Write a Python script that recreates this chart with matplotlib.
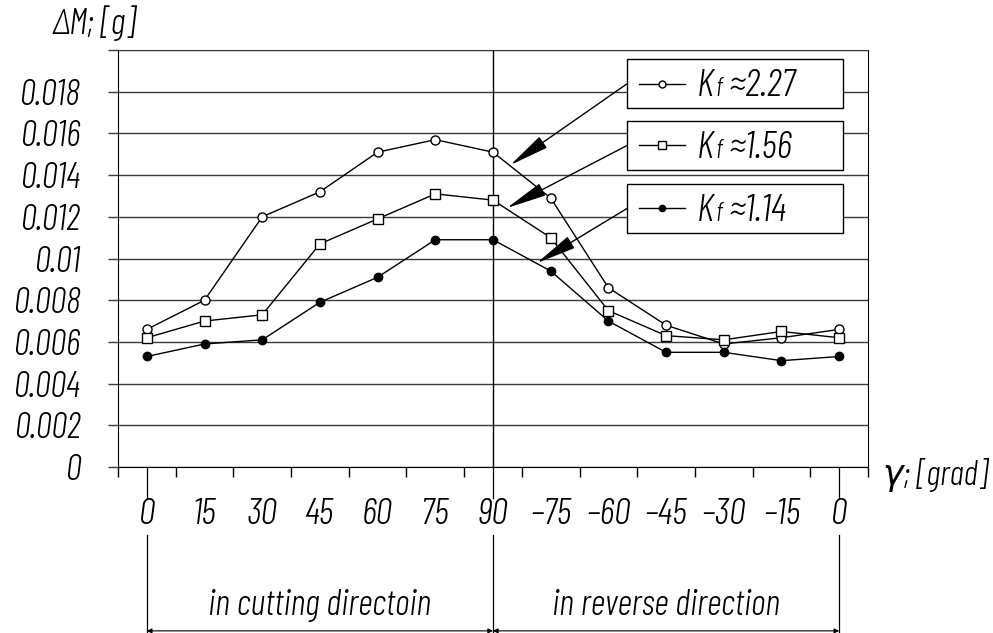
import numpy as np
import matplotlib
matplotlib.use("Agg")
import matplotlib.pyplot as plt
from matplotlib.patches import Rectangle

plt.rcParams['font.family'] = ['Barlow Condensed', 'DejaVu Sans']
plt.rcParams['font.style'] = 'italic'
plt.rcParams['font.weight'] = 300

# angle categories along the x axis
angles = ['0', '15', '30', '45', '60', '75', '90',
          '–75', '–60', '–45', '–30', '–15', '0']

# mass loss dM [g] for each Kf
kf_227 = [0.0066, 0.0080, 0.0120, 0.0132, 0.0151, 0.0157, 0.0151,
          0.0129, 0.0086, 0.0068, 0.0059, 0.0062, 0.0066]
kf_156 = [0.0062, 0.0070, 0.0073, 0.0107, 0.0119, 0.0131, 0.0128,
          0.0110, 0.0075, 0.0063, 0.0061, 0.0065, 0.0062]
kf_114 = [0.0053, 0.0059, 0.0061, 0.0079, 0.0091, 0.0109, 0.0109,
          0.0094, 0.0070, 0.0055, 0.0055, 0.0051, 0.0053]

kf_labels = ['≈2.27', '≈1.56', '≈1.14']

y_ticks = np.arange(0, 0.0201, 0.002)
y_labels = ['0', '0.002', '0.004', '0.006', '0.008', '0.01',
            '0.012', '0.014', '0.016', '0.018', '']

x = np.arange(len(angles))
grid_col = '#3a3a3a'
fs = 26

fig = plt.figure(figsize=(9.93, 6.33), dpi=100)
ax = fig.add_axes([118/993, 1 - 467/633, 750/993, 417/633])

styles = [
    dict(marker='o', mfc='white', ms=6.5),
    dict(marker='s', mfc='white', ms=7),
    dict(marker='o', mfc='black', ms=6),
]
series = [kf_227, kf_156, kf_114]

for vals, st in zip(series, styles):
    ax.plot(x, vals, color='black', lw=1, mec='black', mew=1, zorder=4, **st)

ax.set_xlim(-0.5, 12.5)
ax.set_ylim(0, 0.02)

# y axis
ax.set_yticks(y_ticks, y_labels)
ax.yaxis.grid(True, color=grid_col, lw=1)
ax.tick_params(axis='y', length=7.2, width=1, pad=20, labelsize=fs,
               color=grid_col)

# x axis: labels without ticks, short ticks between categories
ax.set_xticks(x, angles)
ax.tick_params(axis='x', which='major', length=0, pad=22, labelsize=fs + 1)
ax.set_xticks(np.arange(-0.5, 13, 1), minor=True)
ax.tick_params(axis='x', which='minor', length=7.2, width=1, direction='out')

ax.axvline(6, color='black', lw=1, zorder=3)
for s in ['left', 'right', 'bottom']:
    ax.spines[s].set_color('black')
ax.spines['top'].set_color(grid_col)

# long extension lines below the axis
trans = ax.get_xaxis_transform()
for xi in [0, 6, 12]:
    ax.plot([xi, xi], [0, -0.074], transform=trans, clip_on=False,
            color='black', lw=0.9)
    ax.plot([xi, xi], [-0.163, -0.4], transform=trans, clip_on=False,
            color='black', lw=0.9)

# dimension arrows and direction captions
for a, b in [(0, 6), (6, 12)]:
    ax.annotate('', xy=(a, -0.393), xytext=(b, -0.393), xycoords=trans,
                textcoords=trans, annotation_clip=False,
                arrowprops=dict(arrowstyle='<|-|>', lw=0.8, color='black',
                                mutation_scale=7, shrinkA=0, shrinkB=0))
ax.text(3, -0.331, 'in cutting directoin', transform=trans, ha='center',
        va='center', fontsize=fs)
ax.text(9, -0.331, 'in reverse direction', transform=trans, ha='center',
        va='center', fontsize=fs)

# axis titles
fig.text(52/993, 1 - 23/633, 'ΔM; [g]', fontsize=26, va='center')
fig.text(883/993, 1 - 475/633, 'γ; [grad]', fontsize=25, va='center')

# boxed legend entries with arrows to the curves
box_tops = [0.978, 0.830, 0.679]
box_h = 0.1175
arrow_to = [(6.30, 0.01448), (6.24, 0.01242), (6.76, 0.00978)]

renderer = fig.canvas.get_renderer()
for top, lab, st, tgt in zip(box_tops, kf_labels, styles, arrow_to):
    mid = top - box_h/2
    ax.add_patch(Rectangle((0.679, top - box_h), 0.288, box_h,
                           transform=ax.transAxes, facecolor='white',
                           edgecolor='black', lw=1, zorder=5))
    ax.plot([0.695, 0.756], [mid, mid], transform=ax.transAxes, color='black',
            lw=1, zorder=6)
    ax.plot([0.725], [mid], transform=ax.transAxes, color='black',
            mec='black', zorder=6, marker=st['marker'], mfc=st['mfc'],
            ms=st['ms'] - 1.5)
    base = mid - 0.03
    xk = 0.772
    tk = ax.text(xk, base, 'K', transform=ax.transAxes, fontsize=28,
                 va='baseline', zorder=6)
    wk = tk.get_window_extent(renderer).width / ax.bbox.width
    tf = ax.text(xk + wk + 0.002, base, 'f', transform=ax.transAxes,
                 fontsize=19, va='baseline', zorder=6)
    wf = tf.get_window_extent(renderer).width / ax.bbox.width
    ax.text(xk + wk + wf + 0.01, base, lab, transform=ax.transAxes,
            fontsize=28, va='baseline', zorder=6)
    ax.annotate('', xy=tgt, xycoords='data', xytext=(0.679, mid),
                textcoords='axes fraction', zorder=6,
                arrowprops=dict(arrowstyle='-|>,head_length=1.8,head_width=0.3',
                                mutation_scale=14, lw=1, color='black',
                                shrinkA=0, shrinkB=0))

fig.savefig('out.png', dpi=100)
